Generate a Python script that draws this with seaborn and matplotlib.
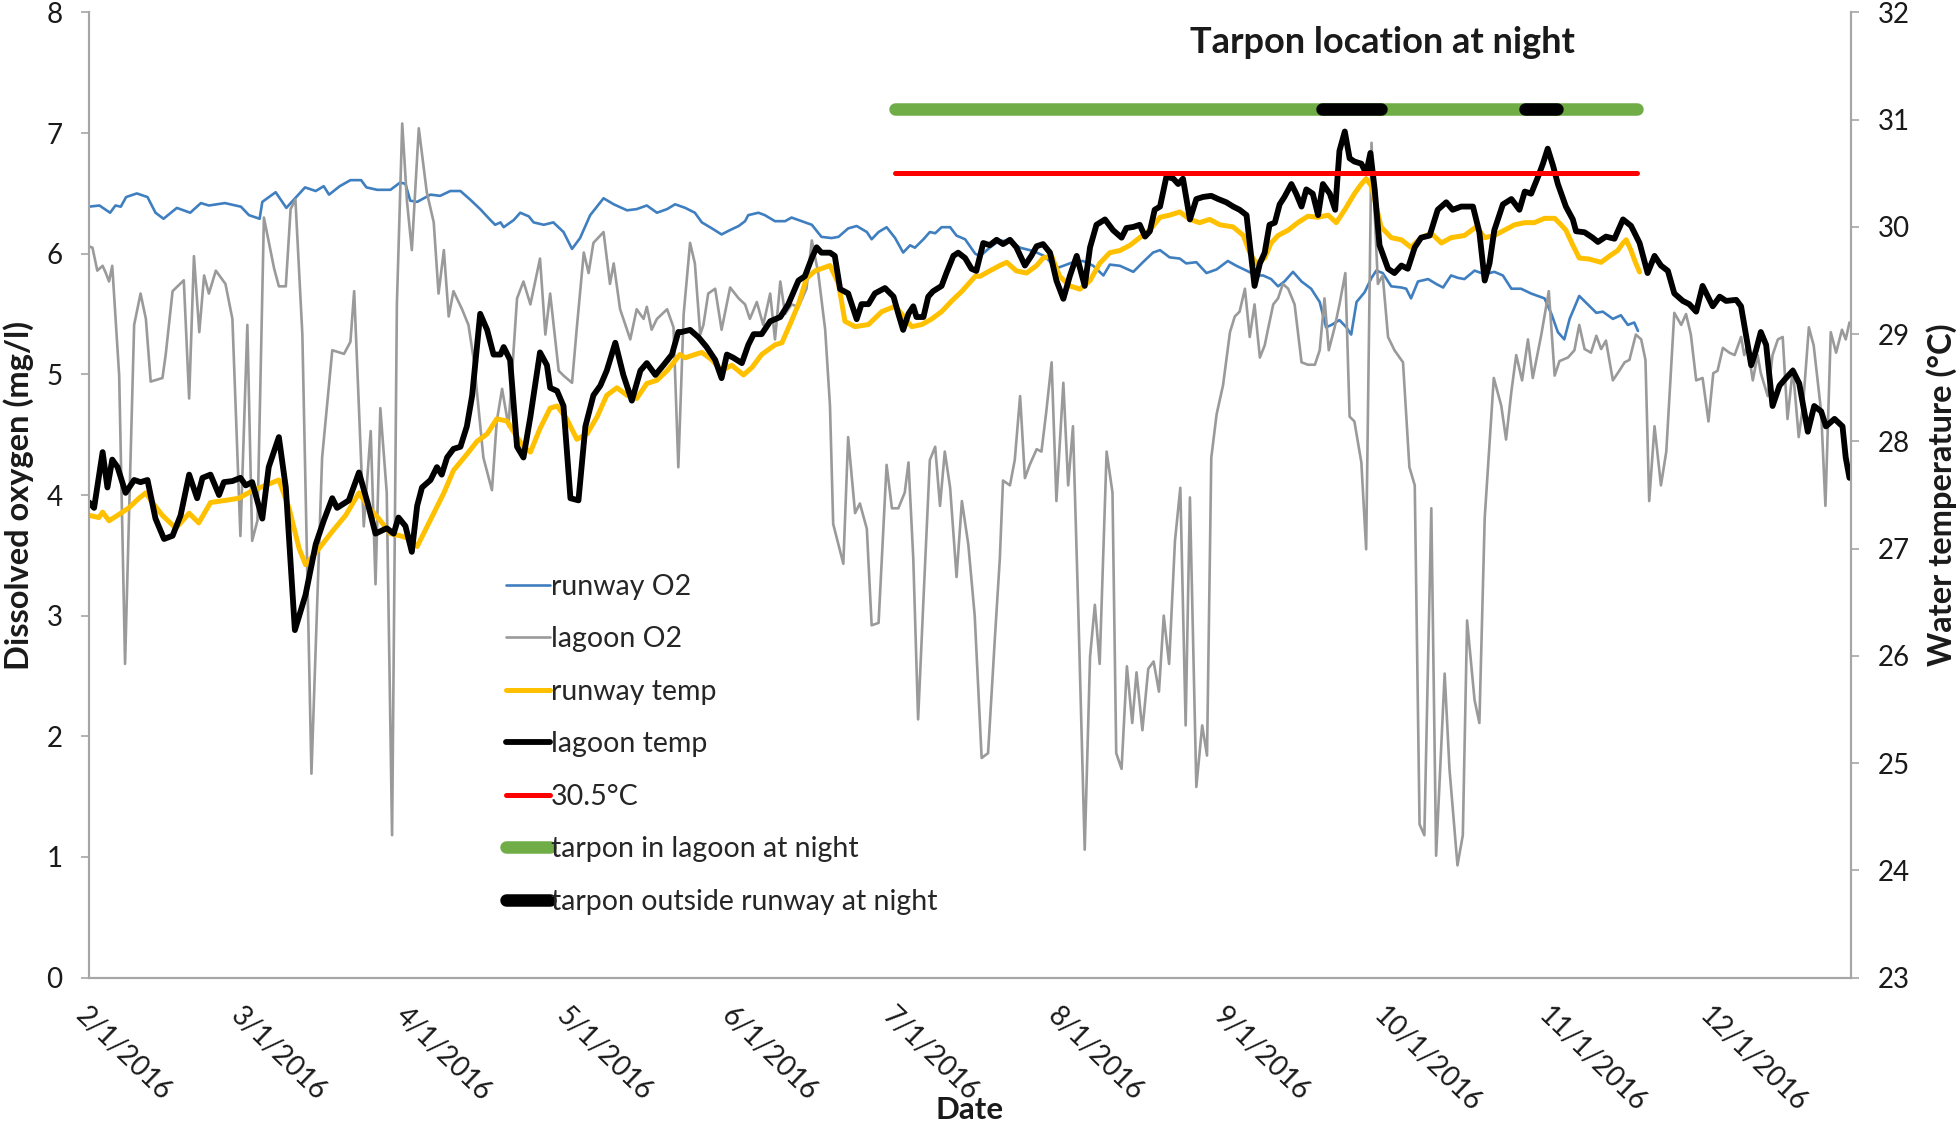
import pandas as pd
import matplotlib
matplotlib.use("Agg")
import matplotlib.pyplot as plt
import seaborn as sns

# Days counted from 2/1/2016
START = pd.Timestamp("2016-02-01")
AXIS_DAYS = 330

runway_o2_day = [0, 2, 4, 5, 6, 7, 9, 11, 12.5, 14, 16.5, 19, 21, 22.5, 25.5, 28.5, 30, 32, 32.5, 35, 37,
                 40.5, 42.5, 44, 45, 47, 49, 51, 52, 54, 56.5, 58.3, 59.3, 60.2, 61.5, 64, 65.8, 67.7, 69.6,
                 71.4, 73.3, 75.2, 76.1, 77.1, 77.7, 79.6, 80.8, 82.4, 83.3, 85.2, 87, 88.9, 90.5, 92, 93.9,
                 96.4, 98.3, 100.8, 102.6, 104.5, 106.4, 108.3, 109.8, 111.7, 113.5, 114.8, 116.7, 118.5,
                 119.8, 121.7, 122.9, 123.5, 125.4, 126.6, 128.5, 130.4, 131.6, 133.5, 135.4, 137.2, 139.1,
                 140.4, 142.2, 143.8, 145.7, 146.6, 147.9, 149.4, 151, 152.5, 153.8, 154.7, 156.3, 157.5,
                 158.5, 159.7, 161.3, 162.5, 164.1, 166, 166.9, 168.7, 170.6, 172.5, 174.4, 176.2, 177.5,
                 179, 181.2, 182.5, 184.3, 186.2, 188.1, 190, 191.2, 193.1, 195.6, 197.4, 199.3, 200.6,
                 202.4, 204.3, 205.5, 207.4, 209.3, 211.2, 213.3, 214.9, 216.8, 218.6, 219.9, 221.4, 222.7,
                 223.9, 225.5, 227.1, 228.9, 230.5, 231.7, 232.7, 234.2, 235.5, 236.4, 237.4, 238.9, 240.2,
                 241.1, 242.3, 243.9, 245.8, 246.7, 247.6, 248.9, 250.8, 252.3, 253.6, 255.1, 256.4, 257.6,
                 259.5, 261.4, 263.2, 264.8, 266.4, 268.2, 270.1, 272.6, 273.9, 275.1, 276.3, 277.3, 279.1,
                 280.7, 282.3, 283.5, 285.4, 286.9, 288.2, 289.4, 290.1]
runway_o2 = [6.39, 6.40, 6.34, 6.40, 6.39, 6.47, 6.50, 6.47, 6.34, 6.29, 6.38, 6.34, 6.42, 6.40, 6.42, 6.39,
             6.32, 6.29, 6.43, 6.51, 6.38, 6.55, 6.52, 6.56, 6.49, 6.56, 6.61, 6.61, 6.55, 6.53, 6.53, 6.59,
             6.58, 6.44, 6.43, 6.49, 6.48, 6.52, 6.52, 6.45, 6.37, 6.28, 6.24, 6.26, 6.22, 6.28, 6.34, 6.31,
             6.26, 6.24, 6.26, 6.18, 6.04, 6.13, 6.32, 6.46, 6.41, 6.36, 6.37, 6.40, 6.34, 6.37, 6.41, 6.38,
             6.34, 6.26, 6.21, 6.16, 6.19, 6.23, 6.27, 6.32, 6.34, 6.32, 6.27, 6.27, 6.30, 6.27, 6.24, 6.14,
             6.13, 6.14, 6.21, 6.23, 6.18, 6.12, 6.18, 6.22, 6.13, 6.01, 6.07, 6.05, 6.12, 6.18, 6.17, 6.22,
             6.22, 6.15, 6.12, 6.00, 5.98, 6.05, 6.11, 6.10, 6.05, 6.03, 6.01, 5.98, 5.88, 5.90, 5.93, 5.94,
             5.90, 5.82, 5.91, 5.90, 5.85, 5.93, 6.01, 6.03, 5.97, 5.96, 5.92, 5.93, 5.84, 5.87, 5.94, 5.90,
             5.86, 5.82, 5.82, 5.79, 5.73, 5.77, 5.85, 5.77, 5.71, 5.60, 5.39, 5.41, 5.45, 5.39, 5.33, 5.60,
             5.68, 5.80, 5.86, 5.84, 5.73, 5.72, 5.71, 5.63, 5.77, 5.79, 5.75, 5.72, 5.82, 5.80, 5.79, 5.86,
             5.83, 5.85, 5.82, 5.71, 5.71, 5.67, 5.63, 5.50, 5.35, 5.29, 5.46, 5.65, 5.58, 5.51, 5.52, 5.46,
             5.49, 5.41, 5.43, 5.36]

lagoon_o2_day = [0.1, 0.7, 1.6, 2.6, 3.2, 3.8, 4.4, 5.7, 6.8, 8.5, 9.7, 10.7, 11.6, 13.8, 14.4, 15.7, 17.8,
                 18.8, 19.7, 20.7, 21.6, 22.5, 23.8, 25.6, 26.9, 28.4, 29.7, 30.6, 31.6, 32.8, 34.7, 35.6,
                 36.9, 37.8, 38.7, 40.0, 41.7, 43.7, 45.6, 47.8, 49.0, 49.7, 51.5, 52.8, 53.7, 54.6, 55.8,
                 56.8, 57.7, 58.7, 59.6, 60.5, 61.8, 63.3, 64.6, 65.5, 66.5, 67.4, 68.3, 69.9, 71.1, 72.1,
                 73.9, 75.5, 76.4, 77.4, 78.6, 80.2, 81.4, 82.7, 84.5, 85.5, 86.4, 88.0, 88.9, 90.5, 91.4,
                 92.7, 93.6, 94.5, 96.4, 97.6, 98.3, 99.5, 101.4, 102.6, 103.9, 104.5, 105.4, 106.4, 108.3,
                 109.5, 110.4, 111.4, 112.6, 113.5, 114.5, 115.1, 116.0, 117.3, 118.5, 120.1, 121.7, 122.9,
                 123.8, 125.1, 126.3, 127.6, 128.5, 129.5, 130.4, 131.6, 132.9, 134.4, 135.4, 136.6, 137.9,
                 138.8, 139.4, 141.3, 142.2, 143.5, 144.4, 145.7, 146.6, 147.9, 149.4, 150.4, 151.6, 152.8,
                 153.5, 154.4, 155.3, 156.3, 157.5, 158.5, 159.4, 160.3, 161.3, 162.5, 163.5, 164.7, 165.9,
                 167.2, 168.4, 169.7, 170.6, 171.2, 172.5, 173.4, 174.4, 175.3, 176.2, 177.5, 178.4, 179.3,
                 180.3, 181.2, 182.5, 183.4, 184.3, 185.3, 186.5, 187.5, 188.4, 189.3, 190.6, 191.7, 192.4,
                 193.4, 194.4, 195.4, 196.2, 197.3, 198.4, 199.4, 200.4, 201.3, 202.3, 203.4, 204.4, 205.4,
                 206.2, 207.4, 208.5, 209.4, 210.2, 211.2, 212.4, 213.7, 214.6, 215.5, 216.5, 217.4, 218.3,
                 219.3, 220.2, 220.8, 221.8, 222.7, 223.6, 224.6, 225.8, 227.1, 228.3, 229.6, 230.5, 231.4,
                 232.2, 233.3, 234.2, 235.3, 236.1, 237.0, 238.3, 239.2, 240.2, 241.4, 242.3, 243.3, 244.5,
                 246.1, 247.3, 248.3, 249.2, 250.1, 251.4, 252.3, 253.9, 254.8, 256.3, 257.3, 258.1, 259.5,
                 260.4, 261.4, 263.1, 264.5, 265.4, 266.4, 267.3, 268.4, 269.5, 270.4, 272.0, 273.4, 274.5,
                 275.4, 277.0, 278.2, 279.1, 280.1, 281.3, 282.3, 283.2, 284.1, 285.4, 286.6, 287.6, 288.5,
                 289.7, 290.7, 291.5, 292.2, 293.2, 294.4, 295.4, 296.9, 298.2, 299.1, 300.0, 301.0, 302.2,
                 303.3, 304.2, 305.0, 306.0, 307.2, 308.2, 309.4, 310.0, 310.6, 311.6, 312.5, 313.1, 314.4,
                 315.3, 316.3, 317.2, 318.1, 319.1, 320.2, 321.0, 322.1, 323.0, 324.4, 325.2, 326.2, 327.2,
                 328.3, 329.0, 329.7]
lagoon_o2 = [6.06, 6.05, 5.86, 5.90, 5.84, 5.77, 5.90, 4.99, 2.60, 5.41, 5.67, 5.46, 4.94, 4.97, 5.16, 5.69,
             5.78, 4.80, 5.98, 5.35, 5.82, 5.67, 5.86, 5.75, 5.46, 3.66, 5.41, 3.62, 3.79, 6.30, 5.88, 5.73,
             5.73, 6.37, 6.45, 5.33, 1.69, 4.31, 5.20, 5.17, 5.27, 5.69, 3.74, 4.53, 3.26, 4.72, 4.02, 1.18,
             5.58, 7.08, 6.43, 6.03, 7.04, 6.51, 6.26, 5.67, 6.03, 5.48, 5.69, 5.54, 5.41, 5.12, 4.31, 4.04,
             4.61, 4.88, 4.57, 5.63, 5.77, 5.58, 5.96, 5.33, 5.67, 5.03, 4.99, 4.93, 5.39, 6.01, 5.84, 6.09,
             6.18, 5.75, 5.92, 5.54, 5.29, 5.54, 5.46, 5.56, 5.37, 5.46, 5.54, 5.39, 4.23, 5.50, 6.09, 5.92,
             5.33, 5.41, 5.67, 5.71, 5.37, 5.72, 5.63, 5.58, 5.46, 5.60, 5.41, 5.67, 5.29, 5.77, 5.50, 5.58,
             5.56, 5.71, 6.11, 5.84, 5.37, 4.74, 3.76, 3.43, 4.48, 3.85, 3.93, 3.72, 2.92, 2.94, 4.25, 3.89,
             3.89, 4.02, 4.27, 3.47, 2.14, 3.13, 4.29, 4.40, 3.91, 4.36, 4.06, 3.32, 3.95, 3.59, 3.00, 1.82,
             1.86, 2.83, 3.47, 4.12, 4.08, 4.29, 4.82, 4.14, 4.25, 4.38, 4.36, 4.69, 5.10, 3.95, 4.93, 4.08,
             4.57, 3.04, 1.06, 2.66, 3.09, 2.60, 4.36, 4.02, 1.86, 1.73, 2.58, 2.11, 2.53, 2.05, 2.56, 2.62,
             2.37, 3.00, 2.60, 3.62, 4.06, 2.09, 3.98, 1.58, 2.09, 1.84, 4.31, 4.67, 4.91, 5.35, 5.48, 5.52,
             5.71, 5.31, 5.58, 5.14, 5.24, 5.37, 5.58, 5.63, 5.75, 5.71, 5.58, 5.10, 5.08, 5.08, 5.20, 5.63,
             5.20, 5.39, 5.58, 5.84, 4.65, 4.61, 4.27, 3.55, 6.92, 5.75, 5.82, 5.31, 5.20, 5.10, 4.23, 4.08,
             1.27, 1.18, 3.89, 1.01, 2.52, 1.73, 0.93, 1.18, 2.96, 2.30, 2.11, 3.81, 4.97, 4.74, 4.46, 4.86,
             5.16, 4.95, 5.29, 4.97, 5.33, 5.69, 4.99, 5.11, 5.14, 5.20, 5.41, 5.21, 5.18, 5.32, 5.21, 5.28,
             4.95, 5.03, 5.10, 5.12, 5.33, 5.29, 5.12, 3.95, 4.57, 4.08, 4.36, 5.51, 5.41, 5.50, 5.33, 4.95,
             4.97, 4.61, 5.01, 5.03, 5.22, 5.18, 5.16, 5.31, 5.16, 5.24, 4.95, 5.16, 5.01, 4.82, 5.16, 5.29,
             5.31, 4.63, 5.05, 4.48, 4.74, 5.39, 5.24, 4.69, 3.91, 5.35, 5.18, 5.37, 5.29, 5.43]

runway_temp_day = [0.1, 1.9, 2.6, 3.8, 5.7, 7.5, 9.4, 10.7, 11.9, 13.8, 16.3, 18.8, 20.6, 22.8, 25.6, 28.1,
                   30.6, 33.1, 35.6, 37.5, 39.4, 40.6, 43.1, 45.6, 48.1, 50.6, 52.5, 54.3, 56.5, 58.3, 60.2,
                   61.5, 62.7, 64.6, 66.5, 68.3, 70.8, 72.7, 74.6, 76.4, 78.3, 80.2, 81.4, 82.7, 84.5, 86.4,
                   87.7, 89.5, 91.4, 93.3, 95.2, 97.0, 98.9, 100.8, 102.6, 104.5, 106.4, 108.3, 110.7,
                   111.7, 113.5, 114.8, 116.7, 118.5, 120.4, 122.6, 124.2, 126.0, 128.5, 129.8, 131.3,
                   132.9, 134.4, 136.0, 138.8, 140.4, 141.6, 143.5, 146.0, 148.5, 151.0, 152.2, 154.1,
                   156.0, 157.8, 159.7, 161.6, 163.5, 166.0, 166.9, 168.7, 170.6, 171.9, 173.7, 175.6,
                   177.5, 178.7, 180.3, 181.8, 183.7, 185.6, 187.5, 189.3, 191.2, 193.1, 195.0, 196.8,
                   198.7, 200.6, 202.4, 204.3, 206.2, 208.0, 209.9, 211.8, 214.3, 216.2, 217.4, 218.6,
                   220.2, 221.4, 222.7, 224.6, 226.4, 228.3, 230.2, 232.1, 233.6, 235.2, 237.0, 238.3,
                   239.2, 240.2, 241.1, 242.0, 243.9, 245.8, 247.6, 249.5, 251.4, 253.3, 255.1, 257.6,
                   259.8, 261.4, 263.2, 265.1, 267.0, 268.9, 270.7, 272.6, 274.5, 275.7, 276.6, 277.9,
                   279.1, 281.0, 283.2, 284.8, 286.3, 287.3, 287.9, 288.8, 289.7, 290.4]
runway_temp = [27.31, 27.29, 27.34, 27.26, 27.32, 27.38, 27.47, 27.52, 27.43, 27.31, 27.19, 27.33, 27.24,
               27.43, 27.45, 27.47, 27.54, 27.59, 27.64, 27.38, 27.00, 26.85, 27.00, 27.16, 27.31, 27.52,
               27.38, 27.28, 27.14, 27.12, 27.09, 27.02, 27.14, 27.33, 27.52, 27.73, 27.88, 28.00, 28.07,
               28.21, 28.19, 28.04, 27.95, 27.90, 28.12, 28.31, 28.33, 28.21, 28.02, 28.07, 28.23, 28.43,
               28.50, 28.43, 28.40, 28.54, 28.57, 28.66, 28.81, 28.78, 28.81, 28.83, 28.76, 28.66, 28.71,
               28.62, 28.69, 28.81, 28.90, 28.92, 29.09, 29.28, 29.52, 29.59, 29.64, 29.47, 29.12, 29.07,
               29.09, 29.21, 29.26, 29.19, 29.07, 29.09, 29.14, 29.21, 29.31, 29.40, 29.54, 29.54, 29.59,
               29.64, 29.67, 29.59, 29.57, 29.64, 29.71, 29.73, 29.54, 29.45, 29.42, 29.50, 29.66, 29.76,
               29.78, 29.83, 29.90, 29.97, 30.09, 30.11, 30.14, 30.07, 30.04, 30.07, 30.02, 30.00, 29.92,
               29.76, 29.66, 29.71, 29.85, 29.92, 29.97, 30.04, 30.10, 30.09, 30.11, 30.04, 30.16, 30.31,
               30.40, 30.45, 30.38, 30.19, 30.00, 29.90, 29.88, 29.81, 29.90, 29.94, 29.85, 29.90, 29.92,
               30.00, 29.90, 29.92, 29.97, 30.02, 30.04, 30.04, 30.08, 30.08, 30.02, 29.97, 29.83, 29.71,
               29.70, 29.67, 29.73, 29.78, 29.85, 29.88, 29.78, 29.66, 29.58]

lagoon_temp_day = [0.1, 1.0, 2.6, 3.5, 4.4, 5.4, 6.9, 8.5, 9.7, 11.0, 12.5, 14.1, 15.7, 17.2, 18.8, 20.3,
                   21.3, 22.8, 24.4, 25.3, 26.9, 28.4, 29.4, 30.6, 32.5, 33.7, 35.6, 36.9, 38.6, 40.6,
                   42.5, 44.0, 45.6, 46.5, 48.7, 50.6, 52.2, 53.7, 55.8, 57.1, 58.0, 59.3, 60.5, 61.5,
                   62.4, 64.0, 65.2, 66.1, 67.1, 68.3, 69.6, 70.8, 71.8, 73.3, 74.6, 75.8, 77.1, 77.7,
                   78.9, 80.2, 81.4, 82.7, 84.5, 85.8, 86.4, 87.7, 88.9, 90.2, 91.7, 93.0, 94.5, 95.8,
                   97.0, 98.6, 100.1, 101.7, 103.3, 104.5, 106.1, 107.6, 109.2, 110.4, 111.0, 112.6,
                   114.2, 115.7, 117.3, 118.5, 119.5, 120.7, 122.3, 123.5, 124.5, 126.0, 127.6, 129.5,
                   131.0, 132.9, 134.1, 135.4, 136.3, 137.2, 138.8, 139.7, 140.7, 142.2, 143.8, 144.7,
                   146.0, 147.2, 149.1, 150.7, 151.6, 152.5, 153.5, 154.4, 155.0, 156.3, 157.2, 158.1,
                   159.7, 160.6, 161.9, 162.8, 164.1, 165.3, 166.2, 167.5, 168.7, 170.0, 171.2, 172.5,
                   173.7, 175.3, 176.5, 177.5, 178.7, 180.0, 181.2, 182.5, 183.7, 185.0, 186.5, 187.5,
                   188.7, 190.3, 191.8, 193.4, 194.3, 195.6, 196.8, 197.8, 198.7, 199.6, 200.6, 201.8,
                   203.1, 204.0, 204.9, 206.2, 207.4, 208.7, 210.2, 211.5, 213.0, 214.3, 215.5, 216.8,
                   218.3, 219.3, 220.2, 221.1, 222.1, 223.0, 223.9, 225.2, 226.1, 227.1, 228.0, 229.2,
                   230.2, 231.1, 232.4, 233.4, 234.2, 235.2, 236.1, 237.0, 238.3, 239.2, 240.0, 240.8,
                   241.7, 243.3, 244.5, 245.8, 247.0, 248.3, 249.5, 251.1, 252.6, 254.2, 255.4, 257.0,
                   259.2, 260.4, 261.4, 262.3, 263.2, 264.8, 266.4, 267.9, 268.9, 270.1, 271.4, 272.3,
                   273.2, 274.2, 275.1, 276.6, 277.9, 278.5, 280.1, 281.6, 282.6, 284.1, 285.7, 287.3,
                   288.8, 290.4, 291.9, 293.2, 294.4, 295.7, 296.9, 298.5, 299.7, 301.0, 302.2, 303.2,
                   304.1, 305.4, 306.6, 308.5, 309.4, 310.3, 311.3, 312.2, 313.1, 314.1, 315.3, 316.6,
                   317.8, 319.1, 320.3, 321.9, 323.1, 324.4, 325.3, 326.9, 328.4, 329.0, 329.7]
lagoon_temp = [27.43, 27.38, 27.90, 27.57, 27.83, 27.76, 27.52, 27.64, 27.62, 27.64, 27.28, 27.09, 27.12,
               27.31, 27.69, 27.47, 27.66, 27.69, 27.50, 27.62, 27.63, 27.66, 27.59, 27.62, 27.28, 27.76,
               28.04, 27.57, 26.24, 26.57, 27.04, 27.26, 27.47, 27.38, 27.45, 27.71, 27.43, 27.14, 27.19,
               27.14, 27.29, 27.21, 26.97, 27.40, 27.57, 27.64, 27.76, 27.69, 27.85, 27.93, 27.95, 28.14,
               28.43, 29.19, 29.04, 28.81, 28.81, 28.88, 28.76, 27.95, 27.85, 28.23, 28.83, 28.71, 28.50,
               28.47, 28.33, 27.47, 27.45, 28.14, 28.43, 28.52, 28.66, 28.92, 28.62, 28.38, 28.66, 28.73,
               28.62, 28.71, 28.81, 29.02, 29.02, 29.04, 28.97, 28.88, 28.76, 28.59, 28.81, 28.78, 28.73,
               28.90, 29.00, 29.00, 29.12, 29.16, 29.28, 29.50, 29.54, 29.71, 29.81, 29.76, 29.76, 29.73,
               29.42, 29.38, 29.14, 29.28, 29.28, 29.38, 29.43, 29.35, 29.19, 29.04, 29.19, 29.26, 29.16,
               29.16, 29.35, 29.40, 29.45, 29.57, 29.73, 29.76, 29.71, 29.61, 29.59, 29.85, 29.83, 29.88,
               29.84, 29.88, 29.81, 29.64, 29.73, 29.82, 29.84, 29.76, 29.50, 29.33, 29.54, 29.73, 29.45,
               29.81, 30.02, 30.07, 29.97, 29.90, 29.99, 30.00, 30.02, 29.91, 29.96, 30.16, 30.19, 30.47,
               30.45, 30.40, 30.45, 30.07, 30.26, 30.28, 30.29, 30.26, 30.23, 30.19, 30.16, 30.11, 29.45,
               29.66, 29.76, 30.02, 30.04, 30.21, 30.28, 30.40, 30.31, 30.19, 30.35, 30.31, 30.11, 30.40,
               30.31, 30.16, 30.71, 30.89, 30.64, 30.61, 30.59, 30.50, 30.69, 30.35, 29.83, 29.61, 29.57,
               29.64, 29.61, 29.81, 29.90, 29.92, 30.16, 30.23, 30.16, 30.19, 30.19, 29.95, 29.50, 29.66,
               29.97, 30.21, 30.26, 30.16, 30.33, 30.31, 30.47, 30.59, 30.73, 30.57, 30.40, 30.19, 30.07,
               29.96, 29.95, 29.90, 29.86, 29.91, 29.89, 30.07, 30.01, 29.85, 29.57, 29.73, 29.64, 29.59,
               29.38, 29.31, 29.28, 29.21, 29.45, 29.35, 29.26, 29.35, 29.31, 29.32, 29.26, 29.00, 28.71,
               28.85, 29.02, 28.90, 28.33, 28.52, 28.59, 28.66, 28.54, 28.09, 28.33, 28.28, 28.14, 28.21,
               28.14, 27.85, 27.66]

# reference temperature and tarpon night locations
threshold_temp = 30.5
threshold_dates = ["2016-07-01", "2016-11-17"]
tarpon_bar_level = 31.1
lagoon_period = ["2016-07-01", "2016-11-17"]
outside_periods = [["2016-09-19", "2016-09-30"], ["2016-10-27", "2016-11-02"]]

tick_dates = pd.date_range("2016-02-01", "2016-12-01", freq="MS")
tick_labels = [f"{d.month}/{d.day}/{d.year}" for d in tick_dates]


def to_dates(days):
    return START + pd.to_timedelta(days, unit="D")


sns.set_style("white")
plt.rcParams["font.family"] = ["Lato", "DejaVu Sans"]

fig = plt.figure(figsize=(19.59, 11.24), dpi=100)
ax = fig.add_axes([0.0453, 0.1303, 0.8996, 0.8586])
ax2 = ax.twinx()

sns.lineplot(x=to_dates(runway_o2_day), y=runway_o2, ax=ax, color="#3f7fc0",
             linewidth=1.9, estimator=None, label="runway O2")
sns.lineplot(x=to_dates(lagoon_o2_day), y=lagoon_o2, ax=ax, color="#9a9a9a",
             linewidth=1.9, estimator=None, label="lagoon O2")

sns.lineplot(x=to_dates(runway_temp_day), y=runway_temp, ax=ax2, color="#ffc000",
             linewidth=3.6, estimator=None, label="runway temp")
sns.lineplot(x=to_dates(lagoon_temp_day), y=lagoon_temp, ax=ax2, color="black",
             linewidth=4.2, estimator=None, label="lagoon temp")
sns.lineplot(x=pd.to_datetime(threshold_dates), y=[threshold_temp] * 2, ax=ax2, color="#ff0000",
             linewidth=3.6, solid_capstyle="round", label="30.5°C")
sns.lineplot(x=pd.to_datetime(lagoon_period), y=[tarpon_bar_level] * 2, ax=ax2, color="#70ad47",
             linewidth=9, solid_capstyle="round", label="tarpon in lagoon at night")
for i, period in enumerate(outside_periods):
    sns.lineplot(x=pd.to_datetime(period), y=[tarpon_bar_level] * 2, ax=ax2, color="black",
                 linewidth=9, solid_capstyle="round",
                 label="tarpon outside runway at night" if i == 0 else None)

h1, l1 = ax.get_legend_handles_labels()
h2, l2 = ax2.get_legend_handles_labels()
for a in (ax, ax2):
    if a.get_legend() is not None:
        a.get_legend().remove()
ax2.legend(h1 + h2, l1 + l2, loc="upper left", bbox_to_anchor=(0.222, 0.445), frameon=False,
           fontsize=20.5, handlelength=1.55, handletextpad=0.05, labelspacing=0.93)

ax.set_xlim(START, START + pd.Timedelta(days=AXIS_DAYS))
ax.set_ylim(0, 8)
ax2.set_ylim(23, 32)
ax.set_yticks(range(0, 9))
ax2.set_yticks(range(23, 33))
ax.set_xticks(tick_dates)
ax.set_xticklabels(tick_labels, rotation=-44, ha="left", va="top", rotation_mode="anchor")

axis_grey = "#a6a6a6"
text_col = "#1a1a1a"
for a in (ax, ax2):
    a.spines["top"].set_visible(False)
    for s in ("left", "right", "bottom"):
        a.spines[s].set_color(axis_grey)
        a.spines[s].set_linewidth(1.5)
    a.tick_params(colors=axis_grey, labelcolor=text_col, labelsize=20, length=6, width=1.2, pad=13)
ax.tick_params(axis="x", length=8, pad=10)

ax.set_xlabel("Date", fontsize=22.5, fontweight="bold", color=text_col)
ax.set_ylabel("Dissolved oxygen (mg/l)", fontsize=23.5, fontweight="bold", color=text_col)
ax2.set_ylabel("Water temperature (\u00b0C)", fontsize=23.5, fontweight="bold", color=text_col)
ax.xaxis.set_label_coords(0.5, -0.137)
ax.xaxis.label.set_va("center")
ax.yaxis.set_label_coords(-0.0397, 0.5)
ax.yaxis.label.set_va("center")
ax2.yaxis.set_label_coords(1.0515, 0.5)
ax2.yaxis.label.set_va("center")

ax2.text(0.734, 0.969, "Tarpon location at night", transform=ax2.transAxes, ha="center",
         va="center", fontsize=26, fontweight="bold", color=text_col)

fig.savefig("out.png", dpi=100)
